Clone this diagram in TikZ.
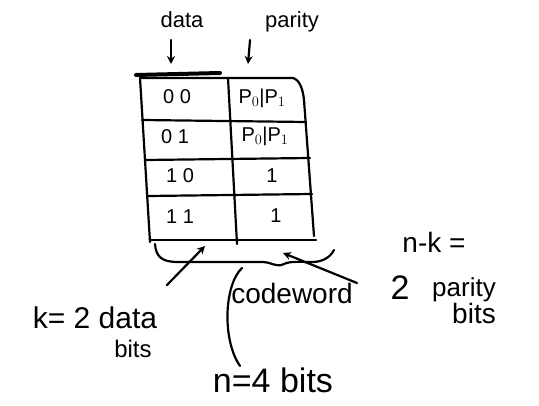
\documentclass[tikz,border=0pt]{standalone}
\usepackage{fontspec}
\setmainfont{Liberation Sans}
\usetikzlibrary{arrows.meta}
\begin{document}
\begin{tikzpicture}[x=1pt,y=-1pt,
  pen/.style={line width=2.2pt,line cap=round,line join=round,black},
  arr/.style={pen,-{Stealth[length=8pt,width=8pt]}},
  fs/.style={font=\fontsize{#1}{#1}\selectfont,inner sep=1pt},
  cell/.style={font=\fontsize{20}{20}\selectfont,inner sep=1pt}]
\useasboundingbox (0,0) rectangle (539,406);
% top labels
\node[fs=22] (data) at (182,20) {data};
\node[fs=22] (parity) at (292,22) {parity};
\coordinate (dataStart) at (171,40);
\coordinate (dataTip) at (171,64);
\coordinate (parStart) at (250,40);
\coordinate (parTip) at (248,64);
\draw[arr] (dataStart) -- (dataTip);
\draw[arr] (parStart) -- (parTip);
% thick bar over data columns
\draw[pen,line width=4pt] (136,75) -- (220,73);
% table
\draw[pen] (140,78) -- (150,242);
\draw[pen] (140,78) -- (293,78) .. controls (300,80) and (303,90) .. (304,100) -- (314,236);
\draw[pen] (228,78) -- (237,244);
\draw[pen] (142,120) -- (306,122);
\draw[pen] (145,160) -- (310,158);
\draw[pen] (148,196) -- (312,194);
\draw[pen] (150,240) -- (316,240);
% cell texts
\node[cell] (c00) at (177,97) {0 0};
\node[cell] (p00) at (262,98) {P$_0$|P$_1$};
\node[cell] (c01) at (175,137) {0 1};
\node[cell] (p01) at (265,136) {P$_0$|P$_1$};
\node[cell] (c10) at (180,176) {1 0};
\node[cell] (p10) at (272,176) {1};
\node[cell] (c11) at (180,217) {1 1};
\node[cell] (p11) at (276,216) {1};
% brace under table
\draw[pen] (155,244) .. controls (156,257) and (162,262) .. (178,262)
  -- (262,262) .. controls (272,262) and (276,268) .. (284,264)
  .. controls (290,261) and (300,262) .. (312,262)
  .. controls (324,262) and (331,256) .. (334,250);
% labels
\node[fs=30] (kdata) at (95,318) {k= 2 data};
\node[fs=24] (kbits) at (133,349) {bits};
\node[fs=28] (codeword) at (292,293) {codeword};
\node[fs=34] (two) at (400,288) {2};
\node[fs=26] (par2) at (464,290) {parity};
\node[fs=28] (bits2) at (474,313) {bits};
\node[fs=28] (nk) at (434,242) {n-k =};
\node[fs=34] (n4) at (273,380) {n=4 bits};
% arrows to table
\coordinate (kTip) at (205,246);
\coordinate (pTip) at (283,253);
\coordinate (kStart) at (167,285);
\coordinate (pStart) at (357,283);
\draw[arr] (kStart) -- (kTip);
\draw[arr] (pStart) -- (pTip);
% curve from codeword to n
\coordinate (cwL) at (242,268);
\coordinate (nTop) at (240,366);
\draw[pen] (cwL) .. controls (224,285) and (222,340) .. (nTop);
\end{tikzpicture}
\end{document}
